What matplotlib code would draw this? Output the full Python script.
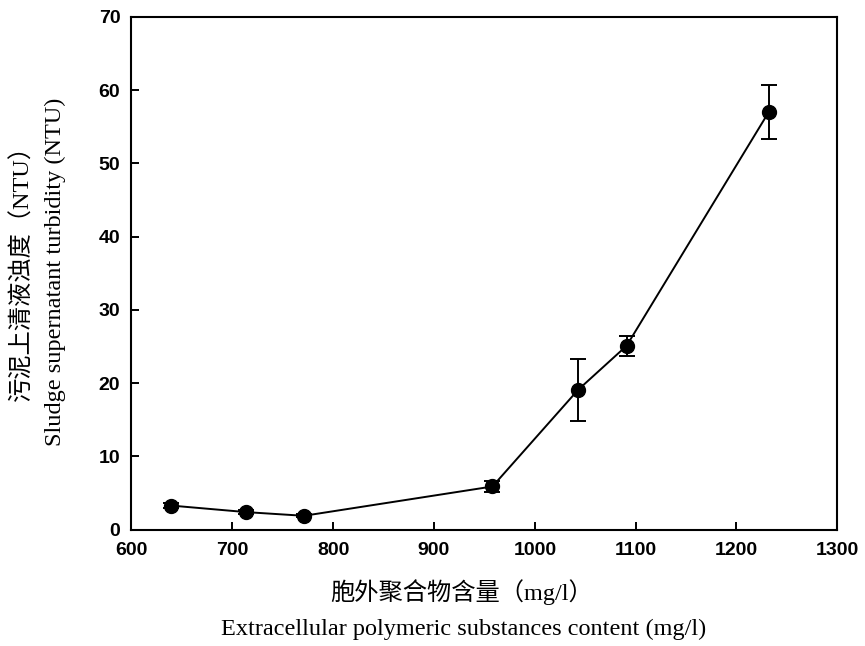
import matplotlib
matplotlib.use("Agg")
import matplotlib.pyplot as plt

# Extracellular polymeric substances vs. supernatant turbidity
eps_content = [639, 714, 771, 958, 1043, 1091, 1232]
turbidity = [3.3, 2.4, 1.9, 5.9, 19.1, 25.1, 57.0]
turbidity_err = [0.4, 0.3, 0.2, 0.8, 4.2, 1.4, 3.7]
x_ticks = [600, 700, 800, 900, 1000, 1100, 1200, 1300]
y_ticks = [0, 10, 20, 30, 40, 50, 60, 70]

label_family = ["Liberation Serif", "Noto Sans CJK SC"]

fig = plt.figure(figsize=(8.65, 6.46), dpi=100)
ax = fig.add_axes([0.152, 0.180, 0.816, 0.794])

ax.errorbar(eps_content, turbidity, yerr=turbidity_err, color="black",
            marker="o", markersize=10, linewidth=1.4, elinewidth=1.4,
            capsize=6, capthick=1.4)

ax.set_xlim(600, 1300)
ax.set_ylim(0, 70)
ax.set_xticks(x_ticks)
ax.set_yticks(y_ticks)
ax.tick_params(direction="in", length=6, width=1.4, labelsize=14)
ax.tick_params(axis="x", pad=9)
ax.tick_params(axis="y", pad=8)
for lbl in ax.get_xticklabels() + ax.get_yticklabels():
    lbl.set_family("Liberation Sans")
    lbl.set_fontweight("bold")
for s in ax.spines.values():
    s.set_linewidth(1.5)

fig.text(0.534, 0.084, "胞外聚合物含量（mg/l）", ha="center", va="center",
         fontsize=17.5, family=label_family)
fig.text(0.536, 0.025, "Extracellular polymeric substances content (mg/l)",
         ha="center", va="center", fontsize=17.5, family=label_family)
fig.text(0.026, 0.587, "污泥上清液浊度（NTU）", ha="center", va="center",
         rotation=90, fontsize=17.5, family=label_family)
fig.text(0.064, 0.579, "Sludge supernatant turbidity (NTU)", ha="center",
         va="center", rotation=90, fontsize=17.5, family=label_family)

fig.savefig("out.png", dpi=100)
